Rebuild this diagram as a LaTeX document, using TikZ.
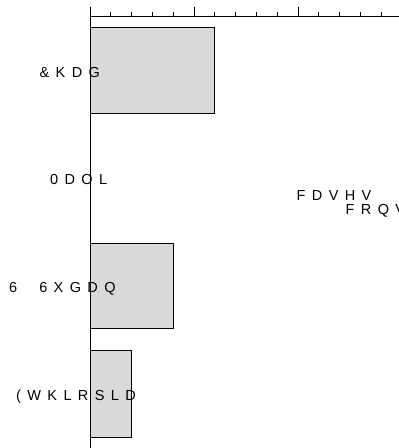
\documentclass[tikz,border=0pt]{standalone}
\usepackage{fontspec}
\usepackage{tikz}
\usetikzlibrary{positioning}
\newfontfamily\barfont[LetterSpace=44]{Liberation Sans}

\begin{document}
\begin{tikzpicture}[x=1pt,y=-1pt,
    bar/.style={draw=black,fill=black!15,line width=0.9pt},
    axis/.style={draw=black,line width=0.9pt},
    lab/.style={font=\barfont\fontsize{14.5}{14.5}\selectfont,inner sep=0pt,anchor=base west}]
  \useasboundingbox (0,0) rectangle (399,448);
  \clip (0,0) rectangle (399,448);
  \draw[bar] (90,27.7) rectangle (214.8,113.7);
  \draw[bar] (90,243) rectangle (173.2,328);
  \draw[bar] (90,350.7) rectangle (131.6,437);
  \draw[axis] (90,448) -- (90,16) -- (399,16);
  \foreach \i in {0,1,2}
    \draw[axis] (90+\i*104,7) -- ++(0,9);
  \foreach \i in {1,...,14}
    \draw[axis] (90+\i*20.8,12) -- ++(0,4);
  \node[lab] (chad) at (39.5,77) {\&KDG};
  \node[lab] (mali) at (50,184.5) {0DOL};
  \node[lab] (sudan) at (9,292) {6\hspace{22pt}6XGDQ};
  \node[lab] (ethiopia) at (16,400) {(WKLRSLD};
  \node[lab] (cases) at (296.5,200) {FDVHV};
  \node[lab] (cons) at (345.5,214.3) {FRQV};
\end{tikzpicture}
\end{document}
